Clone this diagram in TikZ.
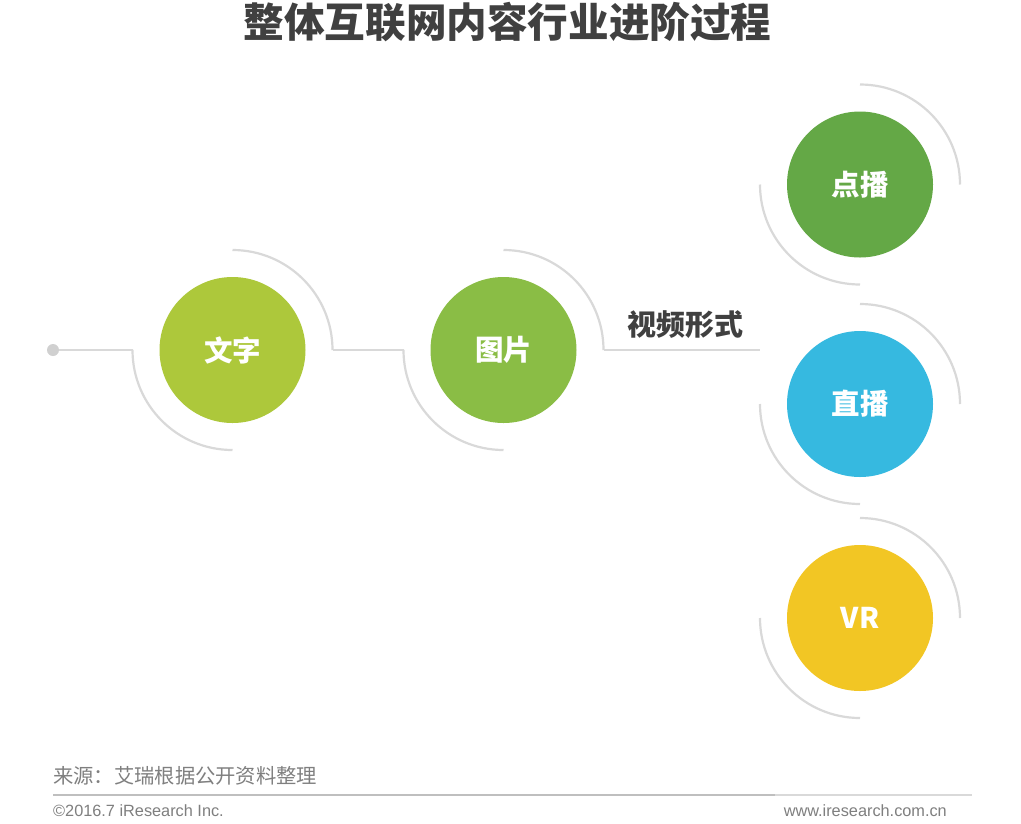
\documentclass[tikz,border=0pt]{standalone}
\usepackage{fontspec}
\newfontfamily\cjk{Noto Sans CJK SC}
\newfontfamily\lat{Liberation Sans}
\definecolor{arcgray}{HTML}{D9D9D9}
\definecolor{dotgray}{HTML}{D0D0D0}
\definecolor{titlegray}{HTML}{404040}
\definecolor{footgray}{HTML}{7F7F7F}
\definecolor{linedark}{HTML}{BFBFBF}
\definecolor{cA}{HTML}{ADC83B}
\definecolor{cB}{HTML}{8ABD45}
\definecolor{cC}{HTML}{64A846}
\definecolor{cD}{HTML}{36B9E0}
\definecolor{cE}{HTML}{F2C624}
\begin{document}
\begin{tikzpicture}[x=1pt,y=1pt,
  arcline/.style={draw=arcgray, line width=2.2pt},
  bubble/.style={circle, minimum size=146pt, inner sep=0pt, text=white,
    font=\cjk\bfseries\fontsize{28.5}{28.5}\selectfont},
  foot/.style={text=footgray, inner sep=0pt}]
\useasboundingbox (0,0) rectangle (1021,-823);
\fill[white] (0,0) rectangle (1021,-823);

\node[text=titlegray, font=\cjk\bfseries\fontsize{40.6}{41}\selectfont] (title) at (507.5,-22) {整体互联网内容行业进阶过程};

\node[circle, fill=dotgray, minimum size=12pt, inner sep=0pt] (dot) at (53,-350) {};
\node[bubble, fill=cA] (c1) at (232.5,-350) {文字};
\node[bubble, fill=cB] (c2) at (503.5,-350) {图片};
\node[bubble, fill=cC] (c3) at (860,-184.5) {点播};
\node[bubble, fill=cD] (c4) at (860,-404) {直播};
\node[bubble, fill=cE] (c5) at (860,-618) {VR};
\coordinate (branch) at (760,-350);

\foreach \c in {c1,c2,c3,c4,c5}{
  \draw[arcline] ([xshift=-100pt]\c.center) arc[start angle=180, end angle=270, radius=100];
  \draw[arcline] ([yshift=100pt]\c.center) arc[start angle=90, end angle=0, radius=100];
}
\draw[arcline] (dot) -- ([xshift=-100pt]c1.center);
\draw[arcline] ([xshift=100pt]c1.center) -- ([xshift=-100pt]c2.center);
\draw[arcline] ([xshift=100pt]c2.center) -- (branch);

\node[text=titlegray, font=\cjk\bfseries\fontsize{29}{29}\selectfont] (video) at (685,-325) {视频形式};

\node[foot, anchor=west, font=\cjk\fontsize{20.3}{21}\selectfont] (src) at (53,-776) {来源：艾瑞根据公开资料整理};
\coordinate (la) at (53,-795);
\coordinate (lb) at (775,-795);
\coordinate (lc) at (972,-795);
\draw[draw=linedark, line width=1.3pt] (la) -- (lb);
\draw[draw=arcgray, line width=1.3pt] (lb) -- (lc);
\node[foot, anchor=west, font=\lat\fontsize{16.3}{17}\selectfont] (copy) at (53,-811) {©2016.7 iResearch Inc.};
\node[foot, anchor=east, font=\lat\fontsize{16.3}{17}\selectfont] (web) at (947,-811) {www.iresearch.com.cn};
\end{tikzpicture}
\end{document}
